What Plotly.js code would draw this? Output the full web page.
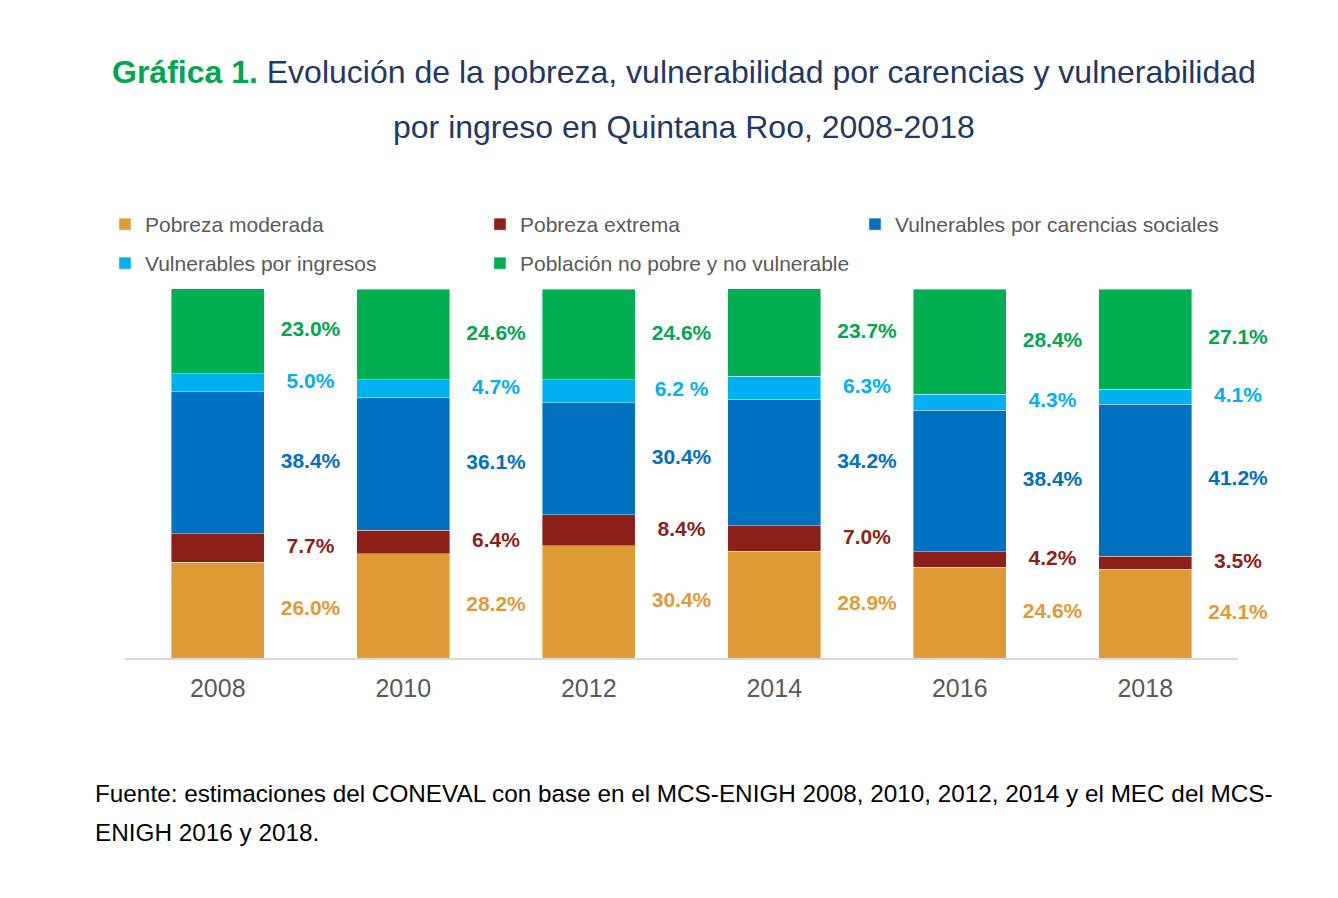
<!DOCTYPE html>
<html>
<head>
<meta charset="utf-8">
<script src="https://cdn.plot.ly/plotly-3.0.1.min.js"></script>
<style>html,body{margin:0;padding:0;background:#fff;}#chart{width:1338px;height:898px;}</style>
</head>
<body>
<div id="chart"></div>
<script>
// ---- data ----
const years = ['2008', '2010', '2012', '2014', '2016', '2018'];
const seriesNames = ['Pobreza moderada', 'Pobreza extrema', 'Vulnerables por carencias sociales', 'Vulnerables por ingresos', 'Población no pobre y no vulnerable'];
const pobrezaModerada = [26.0, 28.2, 30.4, 28.9, 24.6, 24.1];
const pobrezaExtrema = [7.7, 6.4, 8.4, 7.0, 4.2, 3.5];
const vulnCarencias = [38.4, 36.1, 30.4, 34.2, 38.4, 41.2];
const vulnIngresos = [5.0, 4.7, 6.2, 6.3, 4.3, 4.1];
const noPobre = [23.0, 24.6, 24.6, 23.7, 28.4, 27.1];
const labelsModerada = ['26.0%', '28.2%', '30.4%', '28.9%', '24.6%', '24.1%'];
const labelsExtrema = ['7.7%', '6.4%', '8.4%', '7.0%', '4.2%', '3.5%'];
const labelsCarencias = ['38.4%', '36.1%', '30.4%', '34.2%', '38.4%', '41.2%'];
const labelsIngresos = ['5.0%', '4.7%', '6.2 %', '6.3%', '4.3%', '4.1%'];
const labelsNoPobre = ['23.0%', '24.6%', '24.6%', '23.7%', '28.4%', '27.1%'];

// ---- styles ----
const barColors = ['#DE9A35', '#8C1F17', '#0070C0', '#00B0F0', '#00B050'];
const labelColors = ['#E09A35', '#8C1F17', '#0070C0', '#00B0F0', '#00A650'];
const legendOf = ['legend', 'legend', 'legend', 'legend2', 'legend2'];

const series = [pobrezaModerada, pobrezaExtrema, vulnCarencias, vulnIngresos, noPobre];
const labels = [labelsModerada, labelsExtrema, labelsCarencias, labelsIngresos, labelsNoPobre];
const xIdx = years.map((_, i) => i);

const traces = [];
series.forEach((vals, s) => {
  traces.push({
    type: 'bar', name: seriesNames[s], x: xIdx, y: vals,
    width: 0.5, legend: legendOf[s],
    marker: {color: barColors[s], line: {color: 'rgba(255,255,255,0.5)', width: 0.8}},
    hoverinfo: 'skip'
  });
});
// labels at the centre of each segment, to the right of the bar
const cum = years.map(() => 0);
series.forEach((vals, s) => {
  const ys = vals.map((v, i) => cum[i] + v / 2);
  vals.forEach((v, i) => { cum[i] += v; });
  traces.push({
    type: 'scatter', mode: 'text', x: xIdx.map(i => i + 0.5), y: ys,
    text: labels[s], textposition: 'middle center',
    textfont: {family: 'Liberation Sans, Arial, sans-serif', size: 21, color: labelColors[s], weight: 'bold'},
    showlegend: false, hoverinfo: 'skip', cliponaxis: false
  });
});

const plotTop = 289, plotBottom = 658;
const py = p => (plotBottom - p) / (plotBottom - plotTop);
const legendCommon = {
  orientation: 'h', x: -0.018, xanchor: 'left', yanchor: 'top',
  entrywidth: 330, entrywidthmode: 'pixels', traceorder: 'normal',
  bgcolor: 'rgba(0,0,0,0)', font: {size: 21, color: '#595959'}
};

const layout = {
  width: 1338, height: 898,
  margin: {l: 125, r: 100, t: plotTop, b: 898 - plotBottom},
  paper_bgcolor: '#fff', plot_bgcolor: '#fff',
  barmode: 'stack', bargap: 0.5,
  font: {family: 'Liberation Sans, Arial, sans-serif', color: '#595959'},
  showlegend: true,
  legend: Object.assign({}, legendCommon, {y: py(204)}),
  legend2: Object.assign({}, legendCommon, {y: py(243)}),
  xaxis: {
    range: [-0.5, 5.5], tickmode: 'array', tickvals: xIdx, ticktext: years,
    showgrid: false, zeroline: false, showline: true, linecolor: '#D9D9D9', linewidth: 2,
    ticks: '', ticklabelstandoff: 7, tickfont: {size: 25, color: '#595959'}, fixedrange: true
  },
  yaxis: {range: [0, 100], visible: false, showgrid: false, zeroline: false, fixedrange: true},
  annotations: [
    {xref: 'paper', yref: 'paper', x: (684 - 125) / 1113, y: py(72), xanchor: 'center', yanchor: 'middle', showarrow: false,
     text: '<b><span style="color:#00A650">Gráfica 1.</span></b> Evolución de la pobreza, vulnerabilidad por carencias y vulnerabilidad',
     font: {size: 32, color: '#1F3864'}},
    {xref: 'paper', yref: 'paper', x: (684 - 125) / 1113, y: py(127), xanchor: 'center', yanchor: 'middle', showarrow: false,
     text: 'por ingreso en Quintana Roo, 2008-2018', font: {size: 32, color: '#1F3864'}},
    {xref: 'paper', yref: 'paper', x: (93 - 125) / 1113, y: py(793), xanchor: 'left', yanchor: 'middle', showarrow: false,
     text: 'Fuente: estimaciones del CONEVAL con base en el MCS-ENIGH 2008, 2010, 2012, 2014 y el MEC del MCS-', font: {size: 24.3, color: '#000'}},
    {xref: 'paper', yref: 'paper', x: (93 - 125) / 1113, y: py(832), xanchor: 'left', yanchor: 'middle', showarrow: false,
     text: 'ENIGH 2016 y 2018.', font: {size: 24.3, color: '#000'}}
  ]
};

Plotly.newPlot('chart', traces, layout, {displayModeBar: false, staticPlot: true});
</script>
</body>
</html>
